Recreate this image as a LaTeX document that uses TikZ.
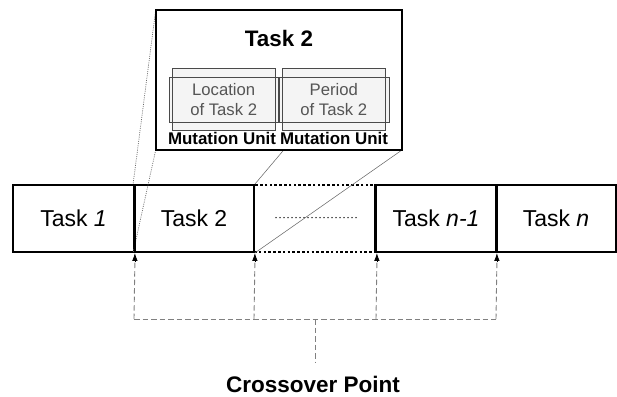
\documentclass[tikz,border=0pt]{standalone}
\usepackage{fontspec}
\setmainfont{Liberation Sans}
\usetikzlibrary{arrows.meta}
\definecolor{guide}{HTML}{6A6A6A}
\definecolor{cutgray}{HTML}{808080}
\definecolor{unitfill}{HTML}{F4F4F4}
\definecolor{unitline}{HTML}{4A4A4A}
\definecolor{unittext}{HTML}{555555}
\tikzset{
  taskbox/.style={draw=black, line width=1.8pt, minimum height=67pt, inner sep=0pt, font=\fontsize{23}{27}\selectfont},
  gapbox/.style={draw=black, line width=1.8pt, dash pattern=on 2.6pt off 2.2pt, minimum height=67pt, inner sep=0pt},
  divider/.style={line width=2.4pt},
  zoomline/.style={draw=guide, line width=0.55pt},
  zoomdots/.style={draw=guide, line width=0.7pt, dash pattern=on 1pt off 1.2pt},
  insetbox/.style={draw=black, fill=white, line width=1.8pt, inner sep=0pt},
  unitrect/.style={inner sep=0pt},
  unitlabel/.style={text=unittext, align=center, font=\fontsize{16.7}{20}\selectfont},
  unitname/.style={font=\bfseries\fontsize{16.9}{18}\selectfont, inner sep=0pt},
  cutline/.style={draw=cutgray, line width=0.9pt, dash pattern=on 5.5pt off 3pt},
  cuttip/.style={draw=black, line width=0.8pt, -{Latex[length=8pt, width=5.5pt]}},
}
\begin{document}
\begin{tikzpicture}[x=1pt, y=-1pt]
\path[use as bounding box] (0,0) rectangle (617,396);

% chromosome row
\node[taskbox, minimum width=121pt] (t1) at (73.5,218.5) {Task \textit{1}};
\node[taskbox, minimum width=120pt] (t2) at (194,218.5) {Task 2};
\node[gapbox, minimum width=122pt] (gap) at (315,218.5) {};
\node[taskbox, minimum width=120pt] (tn1) at (436,218.5) {Task \textit{n-1}};
\node[taskbox, minimum width=120pt] (tn) at (556,218.5) {Task \textit{n}};
\draw[black, line width=1.5pt, dash pattern=on 0pt off 4pt, line cap=round] (276,217.7) -- (356,217.7);

% projection lines from the gene to the enlarged view
\coordinate (zTL) at (155.7,10);
\coordinate (zBL) at (155.7,150);
\coordinate (zTR) at (402,10);
\coordinate (zBR) at (402,150);
\draw[zoomdots] (zTL) -- (t2.north west);
\draw[zoomdots] (zBL) -- (t2.south west);
\draw[zoomline] (zTR) -- (t2.north east);
\draw[zoomline] (zBR) -- (t2.south east);

% enlarged view of Task 2
\node[insetbox, minimum width=246.3pt, minimum height=140pt] (inset) at (278.85,80) {};
\node[font=\bfseries\fontsize{22.4}{26}\selectfont] (title) at (279,38) {Task 2};

\node[unitrect, minimum width=102.7pt, minimum height=61.7pt] (locA) at (223.65,99.15) {};
\node[unitrect, minimum width=109.3pt, minimum height=45pt] (locB) at (223.65,99.8) {};
\node[unitrect, minimum width=102pt, minimum height=61.7pt] (perA) at (333.7,99.15) {};
\node[unitrect, minimum width=109.4pt, minimum height=45pt] (perB) at (334,99.8) {};
% light fill first, then every outline on top so all edges stay visible
\fill[unitfill] (locA.north west) rectangle (locA.south east);
\fill[unitfill] (locB.north west) rectangle (locB.south east);
\fill[unitfill] (perA.north west) rectangle (perA.south east);
\fill[unitfill] (perB.north west) rectangle (perB.south east);
\draw[unitline, line width=0.5pt] (locA.north west) rectangle (locA.south east);
\draw[unitline, line width=0.5pt] (locB.north west) rectangle (locB.south east);
\draw[unitline, line width=0.5pt] (perA.north west) rectangle (perA.south east);
\draw[unitline, line width=0.5pt] (perB.north west) rectangle (perB.south east);
\node[unitlabel] (loc) at (223.7,99.3) {Location\\of Task 2};
\node[unitlabel] (per) at (333.8,99.3) {Period\\of Task 2};
\node[unitname] (mu1) at (222,138) {Mutation Unit};
\node[unitname] (mu2) at (334,138) {Mutation Unit};

% crossover points: dashed feeders, solid arrowheads at the gene borders
\coordinate (c1) at (134,319);
\coordinate (c2) at (254,319);
\coordinate (c3) at (376,319);
\coordinate (c4) at (496,319);
\coordinate (cm) at (315,319);
\coordinate (cb) at (315,363);
\draw[cutline] (c1) -- (c4);
\draw[cutline] (cm) -- (cb);
\draw[cutline] (c1) -- ([yshift=-8pt]t1.south east);
\draw[cutline] (c2) -- ([yshift=-8pt]t2.south east);
\draw[cutline] (c3) -- ([yshift=-8pt]gap.south east);
\draw[cutline] (c4) -- ([yshift=-8pt]tn1.south east);
\draw[cuttip] ([yshift=-9pt]t1.south east) -- (t1.south east);
\draw[cuttip] ([yshift=-9pt]t2.south east) -- (t2.south east);
\draw[cuttip] ([yshift=-9pt]gap.south east) -- (gap.south east);
\draw[cuttip] ([yshift=-9pt]tn1.south east) -- (tn1.south east);
\node[font=\bfseries\fontsize{22.5}{26}\selectfont, inner sep=1pt] (cp) at (313,384) {Crossover Point};

% separators between genes
\draw[divider] (t1.north east) -- (t1.south east);
\draw[divider] (tn1.north east) -- (tn1.south east);
\draw[divider] (tn1.north west) -- (tn1.south west);
\end{tikzpicture}
\end{document}
